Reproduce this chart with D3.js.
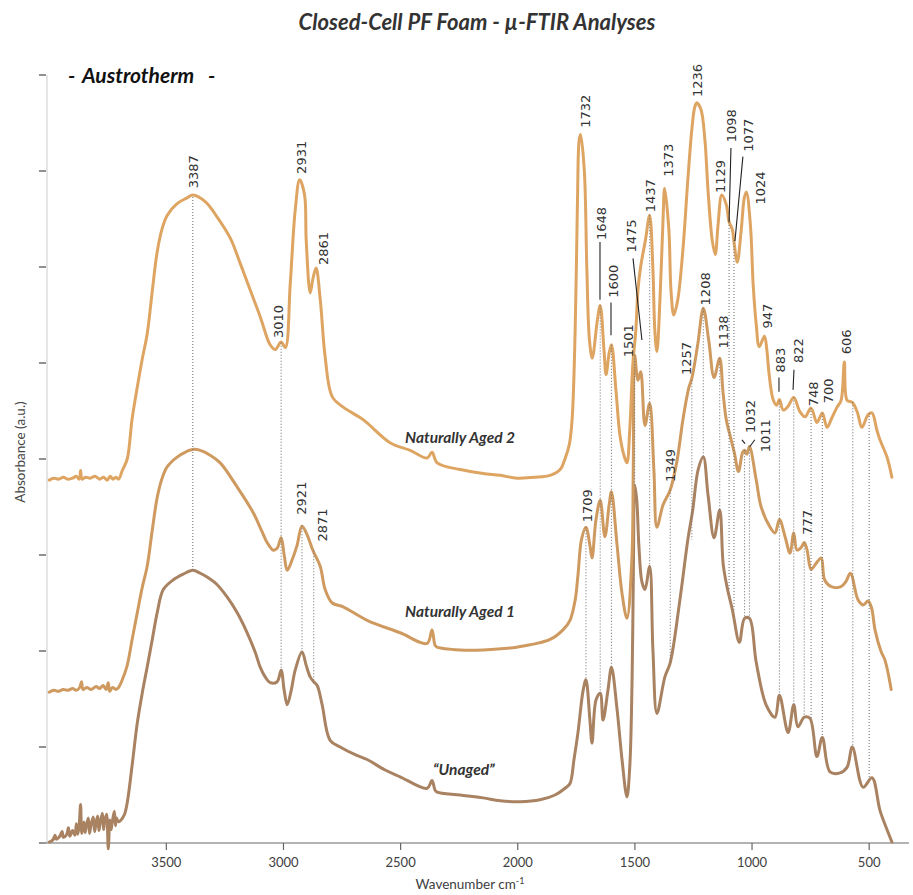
<!DOCTYPE html>
<html><head><meta charset="utf-8">
<script src="https://cdn.jsdelivr.net/npm/d3@7"></script>
<style>body{margin:0;background:#fff} svg{display:block}</style>
</head><body>
<svg id="c" width="913" height="895"></svg>
<script>
// [wavenumber cm-1, absorbance (a.u., offset)]
const naturallyAged2 = [
[4000,3.78],[3980,3.80],[3960,3.79],[3940,3.81],[3920,3.79],[3900,3.80],[3885,3.82],[3872,3.79],[3866,3.88],[3860,3.79],[3845,3.81],[3825,3.80],[3805,3.82],[3785,3.79],[3768,3.81],[3752,3.78],[3740,3.82],[3728,3.79],[3715,3.81],[3704,3.79],
[3688,3.88],[3667,4.00],[3646,4.42],[3624,4.75],[3603,5.04],[3582,5.30],[3560,5.75],[3539,6.16],[3518,6.40],[3496,6.54],[3454,6.66],[3412,6.72],[3387,6.75],[3334,6.68],[3283,6.52],[3227,6.30],[3185,6.04],[3142,5.76],[3099,5.48],[3057,5.19],[3035,5.14],[3010,5.22],[2992,5.16],[2971,5.83],[2950,6.59],[2931,6.91],[2910,6.75],[2903,6.28],[2886,5.73],[2875,5.87],[2861,5.99],[2843,5.66],[2822,5.06],[2792,4.65],[2745,4.54],[2660,4.41],[2545,4.17],[2459,4.09],[2387,4.01],[2366,4.07],[2344,3.96],[2246,3.89],[2148,3.85],[2075,3.83],[2003,3.80],[1932,3.81],[1862,3.83],[1819,3.89],[1800,3.99],[1780,4.15],[1768,4.41],[1755,5.34],[1745,6.70],[1738,7.32],[1732,7.38],[1716,7.01],[1705,5.97],[1694,5.24],[1682,5.05],[1660,5.45],[1648,5.60],[1632,5.14],[1623,4.88],[1610,5.10],[1600,5.19],[1581,4.72],[1564,4.25],[1547,4.04],[1534,3.96],[1522,4.30],[1509,4.98],[1496,5.34],[1487,5.76],[1475,6.01],[1455,6.28],[1437,6.54],[1423,5.97],[1415,5.34],[1406,5.12],[1393,5.66],[1380,6.49],[1373,6.82],[1355,6.39],[1346,5.76],[1334,5.50],[1317,5.66],[1295,6.18],[1274,6.91],[1257,7.43],[1245,7.66],[1236,7.71],[1218,7.64],[1201,7.32],[1188,6.80],[1170,6.28],[1157,6.13],[1145,6.44],[1129,6.75],[1110,6.65],[1098,6.47],[1084,6.39],[1077,6.26],[1063,6.05],[1046,6.39],[1033,6.72],[1024,6.78],[1007,6.44],[995,5.81],[982,5.40],[969,5.17],[947,5.28],[937,5.14],[927,4.88],[910,4.62],[895,4.56],[883,4.62],[867,4.51],[846,4.55],[822,4.64],[795,4.49],[774,4.44],[748,4.53],[723,4.38],[700,4.48],[680,4.33],[659,4.43],[637,4.54],[620,4.61],[606,5.01],[594,4.61],[572,4.59],[551,4.49],[531,4.33],[505,4.46],[488,4.48],[467,4.30],[454,4.20],[424,4.02],[403,3.81]
];
const naturallyAged1 = [
[4000,1.57],[3980,1.59],[3960,1.58],[3940,1.60],[3920,1.59],[3900,1.61],[3885,1.59],[3870,1.62],[3862,1.68],[3856,1.60],[3840,1.62],[3820,1.60],[3800,1.63],[3785,1.61],[3770,1.64],[3757,1.60],[3748,1.67],[3742,1.58],[3730,1.62],[3715,1.60],[3704,1.62],
[3688,1.70],[3667,1.85],[3646,2.12],[3624,2.40],[3603,2.66],[3582,2.88],[3560,3.26],[3539,3.60],[3518,3.80],[3496,3.92],[3454,4.02],[3412,4.08],[3387,4.10],[3355,4.09],[3313,4.04],[3270,3.96],[3198,3.71],[3129,3.44],[3091,3.24],[3070,3.13],[3044,3.05],[3027,3.07],[3010,3.18],[2997,3.00],[2984,2.84],[2963,2.95],[2942,3.10],[2921,3.30],[2899,3.21],[2878,3.07],[2871,3.03],[2843,2.88],[2822,2.64],[2792,2.50],[2745,2.46],[2643,2.32],[2502,2.19],[2387,2.08],[2366,2.22],[2353,2.06],[2344,2.04],[2246,2.01],[2148,2.01],[2003,2.04],[1862,2.12],[1807,2.22],[1777,2.32],[1755,2.53],[1743,2.79],[1728,3.16],[1709,3.29],[1692,3.10],[1683,2.97],[1666,3.37],[1648,3.57],[1628,3.19],[1610,3.52],[1600,3.66],[1576,3.10],[1555,2.60],[1534,2.34],[1513,2.95],[1507,3.89],[1501,5.08],[1487,4.82],[1475,4.91],[1457,4.35],[1437,4.58],[1419,3.89],[1406,3.29],[1380,3.52],[1349,3.68],[1321,3.97],[1295,4.41],[1270,4.74],[1257,4.84],[1232,5.19],[1208,5.57],[1185,5.24],[1162,4.85],[1138,5.05],[1124,4.70],[1110,4.41],[1089,4.20],[1075,4.06],[1058,3.87],[1040,4.07],[1032,4.09],[1022,4.05],[1011,4.13],[982,3.78],[961,3.50],[923,3.29],[902,3.23],[883,3.37],[859,3.19],[838,3.02],[822,3.23],[808,3.05],[790,3.08],[777,3.13],[765,3.05],[748,2.85],[730,2.90],[705,2.97],[690,2.74],[662,2.67],[620,2.67],[600,2.72],[580,2.81],[547,2.53],[525,2.48],[505,2.52],[490,2.45],[475,2.22],[450,2.00],[432,1.90],[406,1.60]
];
const unaged = [
[4000,0.01],[3985,0.03],[3975,0.08],[3970,0.04],[3955,0.07],[3945,0.12],[3940,0.06],[3925,0.09],[3918,0.16],[3912,0.07],[3900,0.13],[3890,0.08],[3884,0.20],[3878,0.09],[3872,0.19],[3866,0.40],[3861,0.10],[3852,0.22],[3847,0.11],[3843,0.16],[3833,0.26],[3828,0.10],[3822,0.18],[3812,0.27],[3806,0.12],[3800,0.21],[3793,0.28],[3788,0.13],[3783,0.20],[3773,0.31],[3768,0.14],[3763,0.23],[3755,0.30],[3748,-0.06],[3741,0.24],[3736,0.14],[3732,0.20],[3722,0.33],[3717,0.18],[3713,0.26],[3704,0.22],
[3680,0.29],[3667,0.42],[3646,0.81],[3624,1.25],[3603,1.56],[3582,1.83],[3560,2.12],[3539,2.40],[3513,2.64],[3471,2.74],[3428,2.80],[3387,2.84],[3355,2.81],[3326,2.77],[3283,2.69],[3240,2.56],[3198,2.40],[3155,2.19],[3121,1.99],[3099,1.83],[3078,1.73],[3057,1.67],[3027,1.68],[3010,1.80],[2997,1.59],[2984,1.44],[2967,1.59],[2950,1.80],[2921,1.99],[2903,1.85],[2886,1.73],[2871,1.68],[2856,1.64],[2835,1.44],[2801,1.07],[2758,1.00],[2694,0.92],[2643,0.87],[2566,0.76],[2502,0.69],[2387,0.57],[2366,0.65],[2353,0.55],[2344,0.53],[2246,0.50],[2148,0.47],[2075,0.44],[1990,0.43],[1905,0.45],[1841,0.50],[1798,0.57],[1777,0.62],[1760,0.87],[1743,1.15],[1721,1.59],[1709,1.70],[1692,1.28],[1683,1.04],[1666,1.49],[1648,1.56],[1636,1.28],[1615,1.59],[1600,1.83],[1576,1.39],[1555,0.87],[1534,0.48],[1522,0.79],[1512,1.70],[1506,2.95],[1501,3.73],[1492,3.57],[1483,3.10],[1470,2.72],[1457,2.64],[1437,2.88],[1423,2.01],[1406,1.35],[1372,1.73],[1349,1.88],[1308,2.53],[1274,3.16],[1253,3.47],[1230,3.89],[1208,4.02],[1188,3.63],[1162,3.18],[1138,3.47],[1123,2.90],[1106,2.66],[1084,2.43],[1054,2.09],[1032,2.34],[1011,2.34],[982,1.88],[940,1.44],[902,1.31],[883,1.54],[846,1.15],[822,1.44],[804,1.21],[777,1.31],[753,1.30],[723,0.90],[700,1.10],[667,0.74],[624,0.73],[594,0.79],[572,1.00],[526,0.58],[488,0.68],[454,0.34],[424,0.14],[403,0.01]
];
const xTicks = [3500, 3000, 2500, 2000, 1500, 1000, 500];
const yTicks = [0, 1, 2, 3, 4, 5, 6, 7, 8];
// peak label: text, wavenumber, absorbance at label start
const peakLabels = [
["3387",3386,6.82],["2931",2922,6.97],["2861",2830,6.02],["3010",3023,5.26],
["1732",1713,7.45],["1236",1235,7.77],["1648",1643,6.28],["1600",1592,5.68],["1475",1514,6.15],["1437",1436,6.57],["1373",1357,6.94],
["1129",1137,6.77],["1098",1087,7.30],["1077",1016,7.20],["1024",966,6.65],["1208",1201,5.60],["947",936,5.36],
["1501",1528,5.06],["1257",1279,4.875],["1138",1123,5.15],["1349",1350,3.76],["1032",1009,4.27],["1011",945,4.07],
["883",881,4.90],["822",803,5.00],["748",740,4.55],["700",676,4.58],["606",596,5.09],
["1709",1704,3.34],["777",766,3.21],["2921",2922,3.42],["2871",2836,3.14]
];
// dotted guide: wavenumber, top absorbance, bottom absorbance
const guideLines = [
[3387,6.73,2.84],[3010,5.21,1.80],[2921,3.31,1.99],[2871,3.05,1.67],[1709,3.29,1.70],[1648,5.60,1.56],[1600,5.19,1.83],[1501,5.08,3.73],[1437,6.54,2.88],[1349,3.68,1.88],[1257,4.82,3.16],[1208,5.57,4.02],[1138,5.05,3.45],[1098,6.47,2.64],[1077,6.28,2.43],[1032,4.09,2.35],[1011,4.13,2.34],[883,4.61,1.54],[822,4.64,1.44],[777,3.13,1.31],[748,4.53,1.30],[700,4.48,1.10],[570,4.59,1.00],[500,4.48,0.68]
];
// solid leader: w1, a1, w2, a2
const leaderLines = [
[1649,6.26,1649,5.66],[1602,5.63,1602,5.29],[1508,6.09,1470,5.24],[1090,7.24,1098,6.47],[1039,7.15,1073,6.27],
[885,4.85,885,4.70],[821,4.93,825,4.72],[1043,4.20,1030,4.16],[988,4.20,1009,4.13]
];
const seriesNames = [["Naturally Aged 2",2481,4.167],["Naturally Aged 1",2481,2.354],["\u201CUnaged\u201D",2362,0.708]];
const seriesColors = ["#DEA562","#CF9A60","#A98262"];

const svg = d3.select("#c");
const x = d3.scaleLinear().domain([4035, 330]).range([41, 909]);
const y = d3.scaleLinear().domain([0, 8]).range([843, 75]);

// title
svg.append("text").attr("x", 477).attr("y", 30).attr("text-anchor","middle")
  .style("font-family","Lato").style("font-weight","bold").style("font-style","italic")
  .style("font-size","22px").attr("fill","#333").text("Closed-Cell PF Foam - \u00B5-FTIR Analyses");
const au = svg.append("g").style("font-family","Lato").style("font-weight","bold").style("font-style","italic")
  .style("font-size","21px").attr("fill","#111");
au.append("text").attr("x",68).attr("y",83).text("-");
au.append("text").attr("x",82).attr("y",83).text("Austrotherm");
au.append("text").attr("x",208).attr("y",83).text("-");

// y axis
svg.append("line").attr("x1",47).attr("x2",47).attr("y1",y(8)).attr("y2",y(0)).attr("stroke","#dcdcdc").attr("stroke-width",1.5);
svg.selectAll(".yt").data(yTicks).enter().append("line")
  .attr("x1",39).attr("x2",46).attr("y1",d=>y(d)).attr("y2",d=>y(d)).attr("stroke","#555").attr("stroke-width",1.3);
svg.append("text").attr("transform","translate(25,452) rotate(-90)").attr("text-anchor","middle")
  .style("font-family","Lato").style("font-size","13.5px").attr("fill","#444").text("Absorbance (a.u.)");

// x axis
svg.append("line").attr("x1",x(4035)).attr("x2",x(330)).attr("y1",y(0)).attr("y2",y(0)).attr("stroke","#9a9a9a").attr("stroke-width",1.3);
svg.selectAll(".xt").data(xTicks).enter().append("line")
  .attr("x1",d=>x(d)).attr("x2",d=>x(d)).attr("y1",y(0)).attr("y2",y(0)+7).attr("stroke","#666").attr("stroke-width",1.2);
svg.selectAll(".xl").data(xTicks).enter().append("text")
  .attr("x",d=>x(d)).attr("y",y(0)+24).attr("text-anchor","middle")
  .style("font-family","Lato").style("font-size","13px").attr("fill","#404040").text(d=>d);
const xt = svg.append("text").attr("x",470).attr("y",889).attr("text-anchor","middle")
  .style("font-family","Lato").style("font-size","13.5px").attr("fill","#404040");
xt.append("tspan").text("Wavenumber cm");
xt.append("tspan").attr("dy",-5).style("font-size","9px").text("-1");

// spectra
const line = d3.line().x(d=>x(d[0])).y(d=>y(d[1])).curve(d3.curveCatmullRom.alpha(0.5));
[unaged, naturallyAged1, naturallyAged2].forEach((s,i)=>{
  svg.append("path").datum(s).attr("d",line).attr("fill","none")
    .attr("stroke", seriesColors[2-i]).attr("stroke-width",3).attr("stroke-linejoin","round").attr("stroke-linecap","round");
});

// guides
svg.selectAll(".g").data(guideLines).enter().append("line")
  .attr("x1",d=>x(d[0])).attr("x2",d=>x(d[0])).attr("y1",d=>y(d[1])).attr("y2",d=>y(d[2]))
  .attr("stroke","#777").attr("stroke-width",1.1).attr("stroke-dasharray","1,2");
svg.selectAll(".ld").data(leaderLines).enter().append("line")
  .attr("x1",d=>x(d[0])).attr("y1",d=>y(d[1])).attr("x2",d=>x(d[2])).attr("y2",d=>y(d[3]))
  .attr("stroke","#222").attr("stroke-width",1.1);

// peak labels
svg.selectAll(".pl").data(peakLabels).enter().append("text")
  .attr("transform",d=>`translate(${x(d[1])},${y(d[2])}) rotate(-90)`)
  .attr("dy","0.36em")
  .style("font-family","DejaVu Sans").style("font-size","13px").attr("fill","#333").text(d=>d[0]);

// series names
svg.selectAll(".sn").data(seriesNames).enter().append("text")
  .attr("x",d=>x(d[1])).attr("y",d=>y(d[2]))
  .style("font-family","Lato").style("font-weight","bold").style("font-style","italic")
  .style("font-size","15.5px").attr("fill","#333").text(d=>d[0]);
</script>
</body></html>
